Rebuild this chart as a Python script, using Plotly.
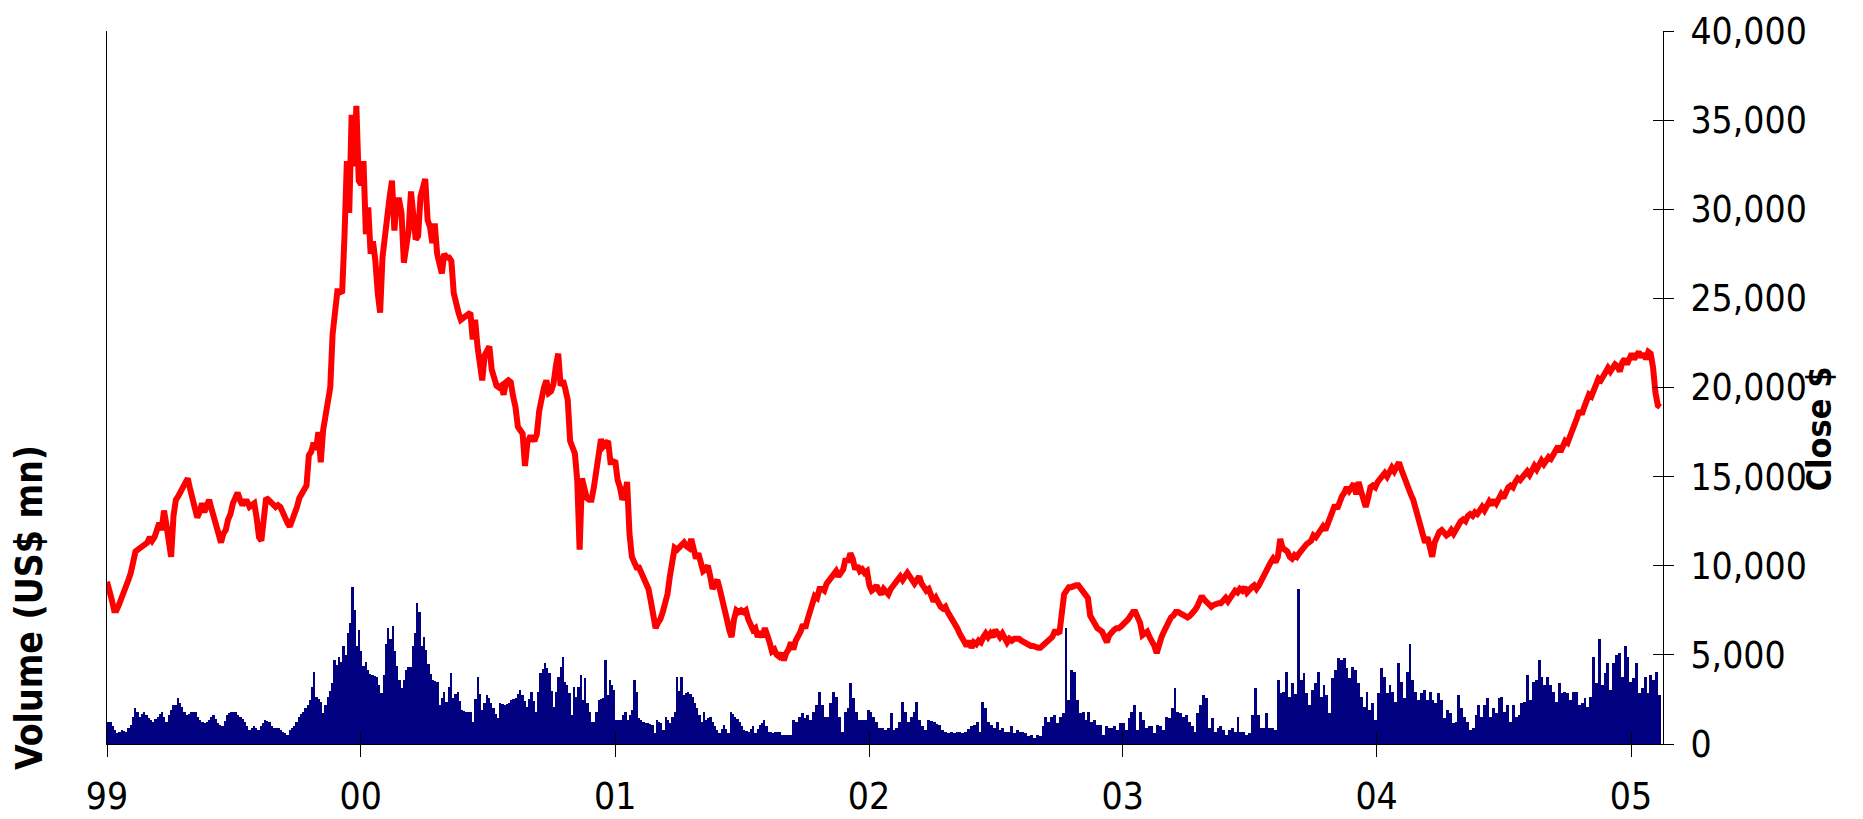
import pandas as pd
import plotly.graph_objects as go

# Close price, every 3.4 days, Jan 1999 - Feb 2005
close = [
    9100, 8700, 8100, 7500, 7500, 7800, 8100, 8400, 8800, 9200,
    9600, 10300, 10800, 10900, 11000, 11000, 11200, 11300, 11600, 11400,
    11600, 12000, 12400, 12000, 13100, 12300, 11000, 10500, 12800, 13700,
    13900, 14200, 14300, 14600, 14900, 14300, 13800, 13200, 12700, 13000,
    13500, 13000, 13300, 13700, 13200, 12700, 12300, 11800, 11300, 11800,
    12000, 12600, 12900, 13500, 13900, 14100, 13700, 13400, 13600, 13600,
    13300, 13400, 13500, 12700, 11600, 11400, 12800, 13800, 13700, 13600,
    13500, 13300, 13400, 13300, 13000, 12600, 12400, 12200, 12500, 12900,
    13300, 13800, 14000, 14300, 14500, 16200, 16400, 16900, 16500, 17500,
    15800, 17600, 18500, 19400, 20000, 23000, 24500, 25400, 25400, 25300,
    28500, 32700, 29800, 35300, 32400, 35800, 31600, 31400, 32700, 28600,
    30100, 27500, 28200, 27100, 25300, 24200, 27300, 28600, 30000, 30700,
    31600, 28800, 30500, 30500, 29800, 27000, 27900, 28800, 31000, 29500,
    28300, 28500, 30700, 31200, 31700, 29400, 29000, 28100, 29200, 27500,
    26700, 26400, 27500, 27300, 27300, 27100, 25300, 24600, 24200, 23800,
    23900, 24000, 24100, 24200, 22700, 23800, 22300, 21300, 20400, 21800,
    22000, 22300, 21000, 20400, 20100, 20000, 20100, 19600, 20300, 20400,
    20300, 19500, 18900, 17800, 17500, 17400, 15600, 16900, 17200, 17200,
    17000, 17400, 18700, 19500, 20000, 20400, 19700, 19800, 20200, 21200,
    21900, 20100, 20400, 19900, 19300, 17000, 16500, 16300, 14800, 10900,
    14900, 14400, 13800, 13700, 13700, 14400, 15200, 16500, 17100, 16700,
    16800, 17000, 15800, 15800, 15900, 14800, 14400, 13700, 14000, 14700,
    11800, 10500, 10200, 9900, 9900, 9600, 9300, 9000, 8700, 8000,
    7200, 6500, 6800, 7000, 7400, 8000, 8400, 9400, 10500, 11000,
    10900, 11000, 11100, 11300, 11100, 11000, 11500, 10900, 10400, 10700,
    10200, 9700, 9800, 10000, 9400, 8700, 9000, 9200, 8700, 8000,
    7700, 7000, 6400, 6000, 7000, 7500, 7400, 7500, 7400, 7500,
    7000, 6700, 6400, 6500, 6000, 6300, 6000, 6500, 6200, 5700,
    5200, 5300, 5000, 4900, 5100, 4700, 5100, 5300, 5700, 5300,
    5800, 6000, 6300, 6700, 6500, 7000, 7500, 8000, 8300, 8200,
    8700, 8700, 8600, 9000, 9200, 9400, 9600, 9700, 9400, 9600,
    9800, 10400, 10200, 10700, 10400, 9800, 10000, 9700, 9800, 9600,
    9700, 8900, 8600, 8700, 8900, 8600, 8400, 8700, 8500, 8400,
    8700, 8900, 9000, 9200, 9400, 9200, 9400, 9600, 9400, 9200,
    9000, 9200, 9400, 9000, 8700, 8600, 8700, 8400, 8000, 8200,
    7900, 7700, 7600, 7700, 7400, 7200, 6900, 6700, 6500, 6200,
    6000, 5700, 5500, 5800, 5400, 5700, 5600, 5800, 5700, 6000,
    6200, 6000, 6200, 6000, 6400, 6200, 6000, 6200, 6000, 5700,
    5900, 5800, 5900, 5900, 5900, 5800, 5700, 5600, 5600, 5500,
    5500, 5400, 5400, 5400, 5500, 5600, 5700, 5900, 6000, 6300,
    6300, 6200, 7300, 8400, 8600, 8800, 8800, 8900, 8900, 8900,
    8700, 8600, 8300, 8200, 7200, 6900, 6600, 6500, 6400, 6300,
    6000, 5700, 6100, 6300, 6400, 6500, 6500, 6600, 6700, 6800,
    7000, 7200, 7400, 7400, 7000, 6800, 6100, 6200, 6300, 6000,
    5800, 5500, 5100, 5700, 6000, 6300, 6600, 6900, 7100, 7200,
    7400, 7400, 7300, 7200, 7100, 7100, 7200, 7300, 7500, 7700,
    8000, 8300, 8100, 8000, 7800, 7700, 7800, 7900, 7900, 7900,
    8000, 8200, 8000, 8200, 8500, 8600, 8500, 8700, 8600, 8800,
    8500, 8700, 8800, 8900, 8700, 8900, 9200, 9400, 9700, 10000,
    10200, 10400, 10200, 10500, 11500, 11000, 10900, 10800, 10500, 10400,
    10600, 10500, 10700, 10900, 11000, 11200, 11300, 11400, 11700, 11600,
    11800, 12000, 12200, 12000, 12400, 12700, 13000, 13400, 13200, 13700,
    13900, 14100, 14400, 14200, 14400, 14600, 14000, 14700, 14200, 13600,
    13300, 13800, 14400, 14500, 14400, 14700, 14900, 15000, 15200, 15000,
    15300, 15500, 15300, 15600, 15800, 15400, 15000, 14700, 14400, 14000,
    13700, 13200, 12600, 12000, 11600, 11300, 11600, 11100, 10500, 11300,
    11700, 11900, 12000, 11800, 11700, 11800, 12000, 11800, 12100, 12400,
    12500, 12600, 12500, 12800, 12900, 12800, 13000, 12900, 13200, 13300,
    13100, 13300, 13600, 13400, 13700, 13500, 13800, 14000, 13800, 14200,
    14400, 14500, 14400, 14700, 14900, 14800, 15000, 15200, 15300, 15100,
    15400, 15600, 15400, 15700, 15900, 15700, 16000, 16100, 16000, 16300,
    16500, 16700, 16400, 16700, 17000, 16900, 17200, 17600, 17900, 18300,
    18700, 18500, 18900, 19300, 19600, 19500, 19900, 20300, 20500, 20400,
    20700, 20900, 21100, 20900, 21200, 21300, 21200, 20900, 21400, 21600,
    21300, 21700, 21900, 21600, 21900, 22000, 21700, 21900, 21600, 22000,
    21900, 21100, 19700, 19000, 18900,
]
close_dates = pd.date_range('1999-01-01', '2005-02-12', periods=len(close))

# Volume (US$ mn), Jan 1999 - Aug 2001 (about every 3.2 days)
volume_99_01 = [
    1260, 1260, 990, 800, 610, 700, 800, 750, 700, 900,
    1080, 1500, 2010, 1800, 1540, 1700, 1820, 1600, 1450, 1350,
    1260, 1400, 1540, 1700, 1820, 1500, 1260, 1600, 1900, 2190,
    2190, 2570, 2300, 2100, 1800, 1640, 1700, 1820, 1820, 1820,
    1500, 1360, 1250, 1170, 1250, 1360, 1500, 1640, 1400, 1170,
    1050, 990, 1300, 1640, 1750, 1820, 1820, 1820, 1650, 1540,
    1400, 1260, 1000, 800, 900, 990, 880, 800, 1000, 1200,
    1360, 1300, 1260, 1000, 890, 890, 890, 800, 700, 600,
    520, 800, 900, 990, 1250, 1540, 1700, 1820, 2000, 2190,
    2470, 3220, 4050, 2660, 2500, 2380, 1730, 2200, 2660, 3000,
    3400, 4710, 4430, 4890, 4600, 5500, 5000, 6200, 6800, 8800,
    7500, 5500, 6400, 5200, 4400, 4600, 4150, 3900, 3870, 3800,
    3780, 3300, 2850, 3870, 5600, 6500, 5900, 6600, 5200, 4400,
    3590, 3120, 3600, 4150, 4340, 4340, 5500, 6200, 7900, 7400,
    5500, 6000, 5300, 4500, 3900, 3590, 3550, 3500, 2190, 2600,
    2940, 2380, 3200, 3960, 2570, 2800, 2940, 2400, 1920, 1870,
    1820, 1820, 1820, 1260, 2500, 3780, 2800, 1920, 2300, 2750,
    2570, 2300, 2010, 1700, 1450, 2290, 2240, 2190, 2240, 2290,
    2470, 2520, 2570, 2800, 3030, 2750, 2400, 2100, 2500, 2940,
    2400, 1820, 2900, 3960, 4200, 4520, 4240, 3960, 3000, 2100,
    2900, 3780, 4300, 4890, 3500, 3310, 2850, 1640, 3220, 2660,
    3200, 3870, 2470, 3680, 2290, 1800, 1260, 1260, 1800, 2470,
    2500, 2570, 4710, 2750, 3590, 3300, 3030, 1360, 1360, 1360,
    1600, 1820, 1360, 1600, 1920, 3590, 2940, 1450, 1350, 1260,
    1200, 1170, 1120, 1080, 610, 1360, 1250, 1170, 800, 1540,
    1350, 1170, 1500, 1820, 3780, 3000, 3780, 2750, 2850, 2940,
    2800, 2660, 2300, 2010, 1600, 1260, 1820, 1360, 1450, 1540,
    1250, 990, 800, 610, 850, 1080, 850, 610, 1820, 1700,
    1540, 1400, 1260, 990, 800, 750, 700, 850, 990, 610,
    850, 1080, 1200, 1360, 1000, 700, 650, 610, 650, 700,
    700,
]
dates_99_01 = pd.date_range('1999-01-03', '2001-08-26', periods=len(volume_99_01))

# Volume (US$ mn), Aug 2001 - Feb 2005 (about every 4.1 days)
volume_01_05 = [
    520, 520, 520, 520, 1360, 1260, 1500, 1730, 1450, 1640,
    1360, 1800, 2190, 2940, 2200, 1540, 1540, 2300, 2940, 2660,
    1540, 700, 1820, 2010, 3400, 2570, 1820, 1360, 1360, 1360,
    1920, 1820, 1540, 1260, 890, 890, 800, 890, 1730, 800,
    890, 1260, 2380, 1820, 1260, 1540, 1820, 2380, 1360, 990,
    800, 1360, 1300, 1260, 1150, 1080, 800, 700, 610, 700,
    610, 700, 700, 610, 700, 850, 990, 1080, 1260, 700,
    2380, 2010, 1260, 1080, 890, 1260, 800, 890, 700, 700,
    990, 610, 800, 700, 700, 610, 430, 520, 330, 520,
    430, 990, 1540, 1260, 1500, 1640, 1170, 1540, 1730, 6500,
    2470, 4150, 4050, 2470, 1730, 1820, 1360, 1820, 1260, 1360,
    1080, 1080, 520, 990, 890, 890, 990, 800, 1170, 1170,
    800, 1450, 1820, 2190, 800, 1820, 1360, 890, 990, 990,
    610, 1080, 990, 800, 1540, 1450, 2010, 3120, 1820, 1730,
    1540, 1640, 1260, 990, 700, 1730, 2190, 2750, 2570, 890,
    1450, 700, 890, 990, 800, 520, 800, 890, 700, 1540,
    700, 700, 520, 610, 1640, 3120, 1640, 890, 890, 1730,
    890, 890, 800, 3590, 2850, 2940, 4050, 2660, 3400, 2800,
    8700, 3590, 3960, 2850, 2190, 3030, 3400, 4050, 2660, 3310,
    2750, 1730, 3680, 4150, 4800, 4710, 4800, 4240, 3680, 4340,
    4150, 3400, 2660, 2100, 2940, 1920, 2290, 1360, 2850, 4240,
    3780, 2850, 3310, 2940, 2380, 4520, 3500, 2570, 4050, 5600,
    3590, 2940, 2470, 2850, 3030, 2470, 2940, 2470, 2290, 2850,
    2470, 1450, 1920, 1730, 1170, 1260, 2750, 2010, 1540, 1260,
    800, 890, 1640, 2190, 1540, 2190, 2570, 1540, 2010, 1730,
    2570, 2660, 1820, 2190, 1260, 2190, 1540, 1640, 2290, 2380,
    3870, 2470, 3500, 3590, 4710, 3780, 3310, 3780, 3310, 2940,
    2380, 3400, 2850, 2940, 2850, 2470, 2940, 2940, 2190, 2290,
    2570, 2100, 2660, 4890, 3400, 5900, 3310, 3960, 4520, 3030,
    4520, 4980, 5080, 3780, 5500, 4890, 3500, 3680, 4520, 2850,
    3120, 3780, 2850, 3870, 3590, 4050, 2750,
]
dates_01_05 = pd.date_range('2001-08-29', '2005-02-11', periods=len(volume_01_05))

year_ticks = pd.date_range('1999-01-01', '2005-01-01', freq='YS')
year_labels = ['99', '00', '01', '02', '03', '04', '05']
x_range = ['1999-01-01', '2005-02-16']

narrow = 'DejaVu Sans Condensed, Liberation Sans, sans-serif'
navy = '#000080'


def bar_width(dates):
    return (dates[1] - dates[0]).total_seconds() * 1000


fig = go.Figure()

fig.add_trace(go.Bar(x=dates_99_01, y=volume_99_01, width=bar_width(dates_99_01),
                     marker=dict(color=navy, line=dict(width=0)), name='Volume'))
fig.add_trace(go.Bar(x=dates_01_05, y=volume_01_05, width=bar_width(dates_01_05),
                     marker=dict(color=navy, line=dict(width=0)), name='Volume'))
fig.add_trace(go.Scatter(x=close_dates, y=close, mode='lines', yaxis='y2',
                         line=dict(color='#FF0000', width=6), name='Close'))

# empty helpers so the tick marks cross the axis lines, like the original
fig.add_trace(go.Scatter(x=[], y=[], xaxis='x2', yaxis='y', hoverinfo='skip'))
fig.add_trace(go.Scatter(x=[], y=[], xaxis='x', yaxis='y3', hoverinfo='skip'))

# the page body adds an 8px offset, so margins are trimmed by 8 on left/top
fig.update_layout(
    width=1863,
    height=819,
    margin=dict(l=99, r=208, t=23, b=83),
    paper_bgcolor='white',
    plot_bgcolor='white',
    showlegend=False,
    bargap=0,
    xaxis=dict(type='date', range=x_range, tickvals=year_ticks, ticktext=year_labels,
               ticks='outside', ticklen=12, tickcolor='black', tickwidth=1,
               showline=True, linecolor='black', linewidth=1, automargin=False,
               showgrid=False, zeroline=False, ticklabelstandoff=8,
               tickfont=dict(family=narrow, size=37, color='black')),
    xaxis2=dict(type='date', range=x_range, tickvals=year_ticks, overlaying='x',
                anchor='y', side='bottom', ticks='inside', ticklen=12,
                tickcolor='black', showticklabels=False, showline=False,
                showgrid=False, zeroline=False, automargin=False),
    yaxis=dict(range=[0, 40000], showticklabels=False, ticks='',
               showline=True, linecolor='black', linewidth=1, automargin=False,
               showgrid=False, zeroline=False),
    yaxis2=dict(range=[0, 40000], overlaying='y', side='right', anchor='x',
                dtick=5000, tickformat=',', ticks='outside', ticklen=10,
                tickcolor='black', showline=True, linecolor='black', linewidth=1,
                showgrid=False, zeroline=False, ticklabelstandoff=9, automargin=False,
                tickfont=dict(family=narrow, size=37, color='black')),
    yaxis3=dict(range=[0, 40000], overlaying='y', side='right', anchor='x',
                dtick=5000, ticks='inside', ticklen=10, tickcolor='black', automargin=False,
                showticklabels=False, showline=False, showgrid=False, zeroline=False),
)

fig.add_annotation(text='Volume (US$ mn)', xref='paper', yref='paper',
                   x=-0.0501, y=0.1907, xanchor='center', yanchor='middle',
                   textangle=-90, showarrow=False,
                   font=dict(family=narrow, size=37, color='black', weight='bold'))
fig.add_annotation(text='Close $', xref='paper', yref='paper',
                   x=1.1005, y=0.4418, xanchor='center', yanchor='middle',
                   textangle=-90, showarrow=False,
                   font=dict(family=narrow, size=34, color='black', weight='bold'))

fig.write_html('out.html')
